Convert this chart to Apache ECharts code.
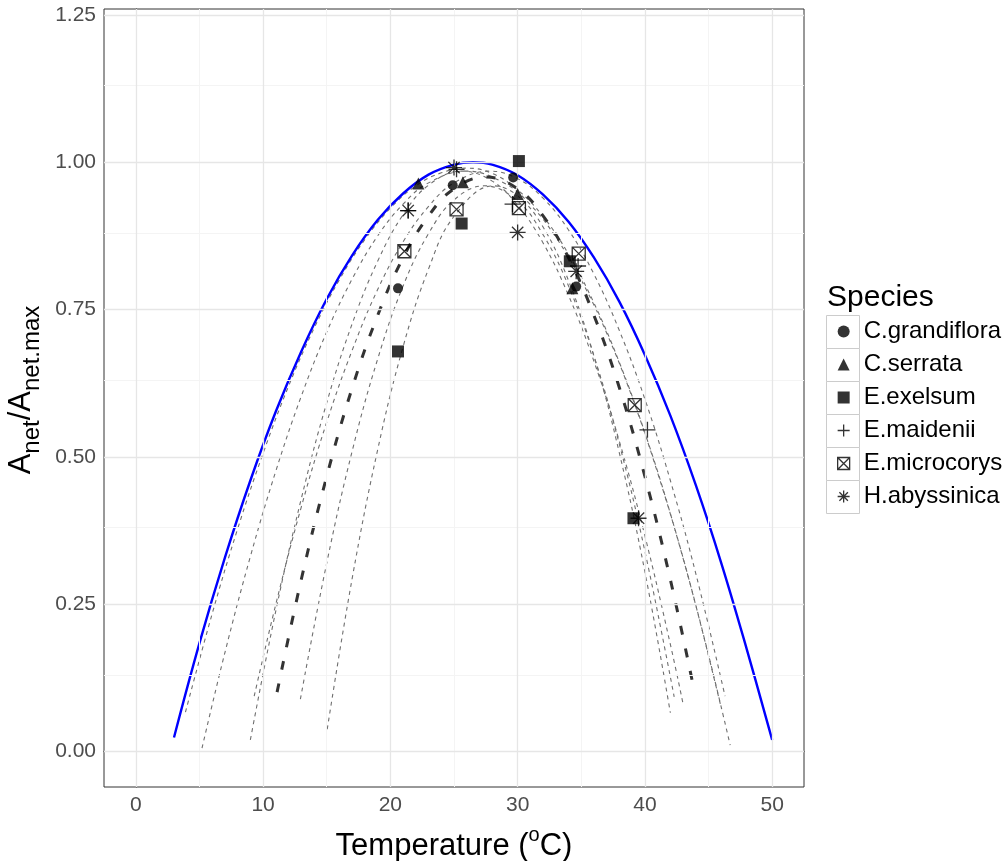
<!DOCTYPE html>
<html><head><meta charset="utf-8">
<script src="https://cdn.jsdelivr.net/npm/echarts@6/dist/echarts.min.js"></script>
<style>html,body{margin:0;padding:0;background:#fff}#c{width:1008px;height:861px}</style>
</head><body><div id="c"></div>
<script>
// ---- tick / grid values ----
const xMajor = [0, 10, 20, 30, 40, 50];
const xMinor = [5, 15, 25, 35, 45];
const yMajor = [0, 0.25, 0.5, 0.75, 1.0, 1.25];
const yMinor = [0.125, 0.375, 0.625, 0.875, 1.125];

// ---- species (observed points) ----
const speciesNames = ['C.grandiflora', 'C.serrata', 'E.exelsum', 'E.maidenii', 'E.microcorys', 'H.abyssinica'];
const grandiflora = [[20.6,0.786],[24.9,0.961],[29.65,0.974],[34.6,0.789]];
const serrata     = [[22.2,0.964],[25.7,0.966],[30.0,0.946],[34.3,0.786]];
const exelsum     = [[20.6,0.679],[25.6,0.896],[30.1,1.002],[34.1,0.832],[39.1,0.396]];
const maidenii    = [[21.4,0.918],[25.2,0.988],[29.6,0.929],[34.75,0.824],[40.2,0.546]];
const microcorys  = [[21.1,0.849],[25.2,0.920],[30.1,0.922],[34.8,0.845],[39.2,0.588]];
const abyssinica  = [[21.4,0.918],[25.0,0.991],[30.0,0.881],[34.6,0.815],[39.5,0.396]];

// ---- fitted curves ----
const curveOverall = [[3,0.024],[5,0.184],[7,0.329],[9,0.46],[11,0.577],[13,0.679],[15,0.768],[17,0.842],[19,0.902],[21,0.947],[23,0.979],[25,0.996],[26.5,1.0],[28,0.996],[30,0.978],[32,0.945],[34,0.899],[36,0.838],[38,0.763],[40,0.673],[42,0.57],[44,0.452],[46,0.32],[48,0.174],[50,0.02]];
const curveMean = [[11.1,0.101],[13,0.292],[15,0.467],[17,0.617],[19,0.74],[21,0.838],[23,0.909],[25,0.955],[27.5,0.975],[30,0.955],[32,0.909],[34,0.838],[36,0.74],[38,0.617],[40,0.467],[42,0.292],[43.9,0.101]];
const curveA = [[3.9,0.067],[6,0.234],[8,0.378],[10,0.506],[12,0.62],[14,0.718],[16,0.801],[18,0.869],[20,0.922],[22,0.96],[24,0.982],[26,0.99],[28,0.981],[30,0.953],[32,0.908],[34,0.844],[36,0.761],[38,0.66],[40,0.541],[42,0.404],[44,0.248],[46,0.074]];
const curveB = [[5.2,0.006],[7,0.168],[9,0.331],[11,0.476],[13,0.603],[15,0.712],[17,0.802],[19,0.875],[21,0.929],[23,0.965],[26,0.985],[29,0.964],[31,0.928],[33,0.873],[35,0.8],[37,0.71],[39,0.601],[41,0.473],[43,0.328],[45,0.164],[46.7,0.011]];
const curveC = [[9,0.02],[11,0.239],[13,0.429],[15,0.592],[17,0.726],[19,0.832],[21,0.911],[23,0.961],[25.6,0.985],[28,0.968],[30,0.927],[32,0.863],[34,0.774],[36,0.662],[38,0.526],[40,0.366],[42,0.182],[43,0.081]];
const curveD = [[9.3,0.094],[11,0.25],[13,0.415],[15,0.559],[17,0.681],[19,0.784],[21,0.865],[23,0.925],[25,0.965],[27.8,0.985],[30,0.972],[32,0.939],[34,0.885],[36,0.81],[38,0.714],[40,0.598],[42,0.46],[44,0.302],[46.3,0.094]];
const curveE = [[12.93,0.089],[15,0.32],[17,0.51],[19,0.666],[21,0.79],[23,0.879],[25,0.936],[27.4,0.96],[30,0.934],[32,0.877],[34,0.79],[36,0.671],[38,0.521],[40,0.34],[42.3,0.093]];
const curveF = [[15.04,0.038],[17,0.294],[19,0.512],[21,0.687],[23,0.819],[25,0.908],[28.1,0.96],[30,0.943],[32,0.89],[34,0.799],[36,0.671],[38,0.506],[40,0.305],[42,0.066]];

const FONT = 'Liberation Sans, Arial, sans-serif';
const PLUS = 'path://M0,5L10,5M5,0L5,10';
const SQX  = 'path://M0,0L10,0L10,10L0,10ZM0,0L10,10M10,0L0,10';
const AST  = 'path://M5,0L5,10M0,5L10,5M1.46,1.46L8.54,8.54M8.54,1.46L1.46,8.54';

const speciesData = [grandiflora, serrata, exelsum, maidenii, microcorys, abyssinica];
const speciesSym = ['circle', 'triangle', 'rect', PLUS, SQX, AST];
const speciesSize = [10, 12, 12, 16, 13, 16];
const speciesFilled = [true, true, true, false, false, false];

function styleFor(i) {
  return speciesFilled[i]
    ? { color: '#000', borderWidth: 0 }
    : { color: 'rgba(0,0,0,0)', borderColor: '#000', borderWidth: 1.3 };
}

const chart = echarts.init(document.getElementById('c'), null, { renderer: 'canvas' });

const gridLines = [];
xMinor.forEach(v => gridLines.push({ xAxis: v, lineStyle: { color: '#F4F4F4', width: 1, type: 'solid' } }));
yMinor.forEach(v => gridLines.push({ yAxis: v, lineStyle: { color: '#F4F4F4', width: 1, type: 'solid' } }));
xMajor.forEach(v => gridLines.push({ xAxis: v, lineStyle: { color: '#E6E6E6', width: 1.3, type: 'solid' } }));
yMajor.forEach(v => gridLines.push({ yAxis: v, lineStyle: { color: '#E6E6E6', width: 1.3, type: 'solid' } }));

const series = [];
series.push({
  type: 'line', name: '_grid', data: [], silent: true, z: 0,
  markLine: { silent: true, symbol: ['none', 'none'], label: { show: false }, animation: false, data: gridLines }
});
[curveA, curveB, curveC, curveD, curveE, curveF].forEach((c, i) => {
  series.push({
    type: 'line', name: '_fit' + i, data: c, showSymbol: false, smooth: 0.4, z: 2, silent: true,
    lineStyle: { color: '#6F6F6F', width: 1.1, type: [4, 4] }
  });
});
series.push({
  type: 'line', name: '_mean', data: curveMean, showSymbol: false, smooth: 0.4, z: 3, silent: true,
  lineStyle: { color: '#333333', width: 3, type: [9, 14] }
});
series.push({
  type: 'line', name: '_overall', data: curveOverall, showSymbol: false, smooth: 0.4, z: 4, silent: true,
  lineStyle: { color: '#0000FF', width: 2.4, type: 'solid' }
});
speciesNames.forEach((n, i) => {
  series.push({
    type: 'scatter', name: n, data: speciesData[i], symbol: speciesSym[i], symbolSize: speciesSize[i],
    z: 5, itemStyle: styleFor(i)
  });
});

const legendBoxes = speciesNames.map((n, i) => ({
  type: 'rect', z: 0,
  shape: { x: 826.5, y: 315.5 + 33 * i, width: 33, height: 33 },
  style: { fill: '#FFFFFF', stroke: '#CCCCCC', lineWidth: 1 }
}));

chart.setOption({
  animation: false,
  backgroundColor: '#FFFFFF',
  grid: { left: 104, right: 204, top: 9, bottom: 74, outerBoundsMode: 'none', containLabel: false,
          show: true, borderColor: '#333333', borderWidth: 1, backgroundColor: 'rgba(0,0,0,0)' },
  xAxis: {
    type: 'value', min: -2.5, max: 52.5,
    axisLine: { show: true, lineStyle: { color: '#333333', width: 1 } },
    axisTick: { show: true, customValues: xMajor, length: 5, lineStyle: { color: '#333333', width: 1 } },
    axisLabel: { customValues: xMajor, fontSize: 21, color: '#4D4D4D', fontFamily: FONT, margin: 8 },
    splitLine: { show: false },
    name: '{t|Temperature (}{p|o}{t|C)}',
    nameLocation: 'middle', nameGap: 38,
    nameTextStyle: {
      rich: {
        t: { fontSize: 31, fontFamily: FONT, color: '#000', verticalAlign: 'bottom', padding: [6, 0, 0, 0] },
        p: { fontSize: 20, fontFamily: FONT, color: '#000', verticalAlign: 'top' }
      }
    }
  },
  yAxis: {
    type: 'value', min: -0.06, max: 1.26,
    axisLine: { show: true, lineStyle: { color: '#333333', width: 1 } },
    axisTick: { show: true, customValues: yMajor, length: 5, lineStyle: { color: '#333333', width: 1 } },
    axisLabel: { customValues: yMajor, fontSize: 21, color: '#4D4D4D', fontFamily: FONT, margin: 8, formatter: v => v.toFixed(2) },
    splitLine: { show: false },
    name: '{a|A}{s|net}{a|/A}{s|net.max}',
    nameLocation: 'middle', nameGap: 60, nameRotate: 90,
    nameTextStyle: {
      padding: [0, 0, 0, 16],
      rich: {
        a: { fontSize: 31, fontFamily: FONT, color: '#000', verticalAlign: 'top' },
        s: { fontSize: 24, fontFamily: FONT, color: '#000', verticalAlign: 'top', padding: [14, 0, 0, 0] }
      }
    }
  },
  legend: {
    orient: 'vertical', left: 837, top: 315, padding: 0, itemWidth: 12, itemHeight: 12, itemGap: 0, z: 10,
    textStyle: { fontSize: 24, fontFamily: FONT, color: '#000', lineHeight: 33, padding: [0, 0, 0, 9] },
    data: speciesNames.map((n, i) => ({ name: n, icon: speciesSym[i], itemStyle: styleFor(i) }))
  },
  graphic: {
    elements: legendBoxes.concat([{
      type: 'text', x: 827, y: 298, z: 1,
      style: { text: 'Species', fontSize: 30, fontFamily: FONT, fill: '#000', verticalAlign: 'middle', textVerticalAlign: 'middle' }
    }])
  },
  series: series
});
</script></body></html>
